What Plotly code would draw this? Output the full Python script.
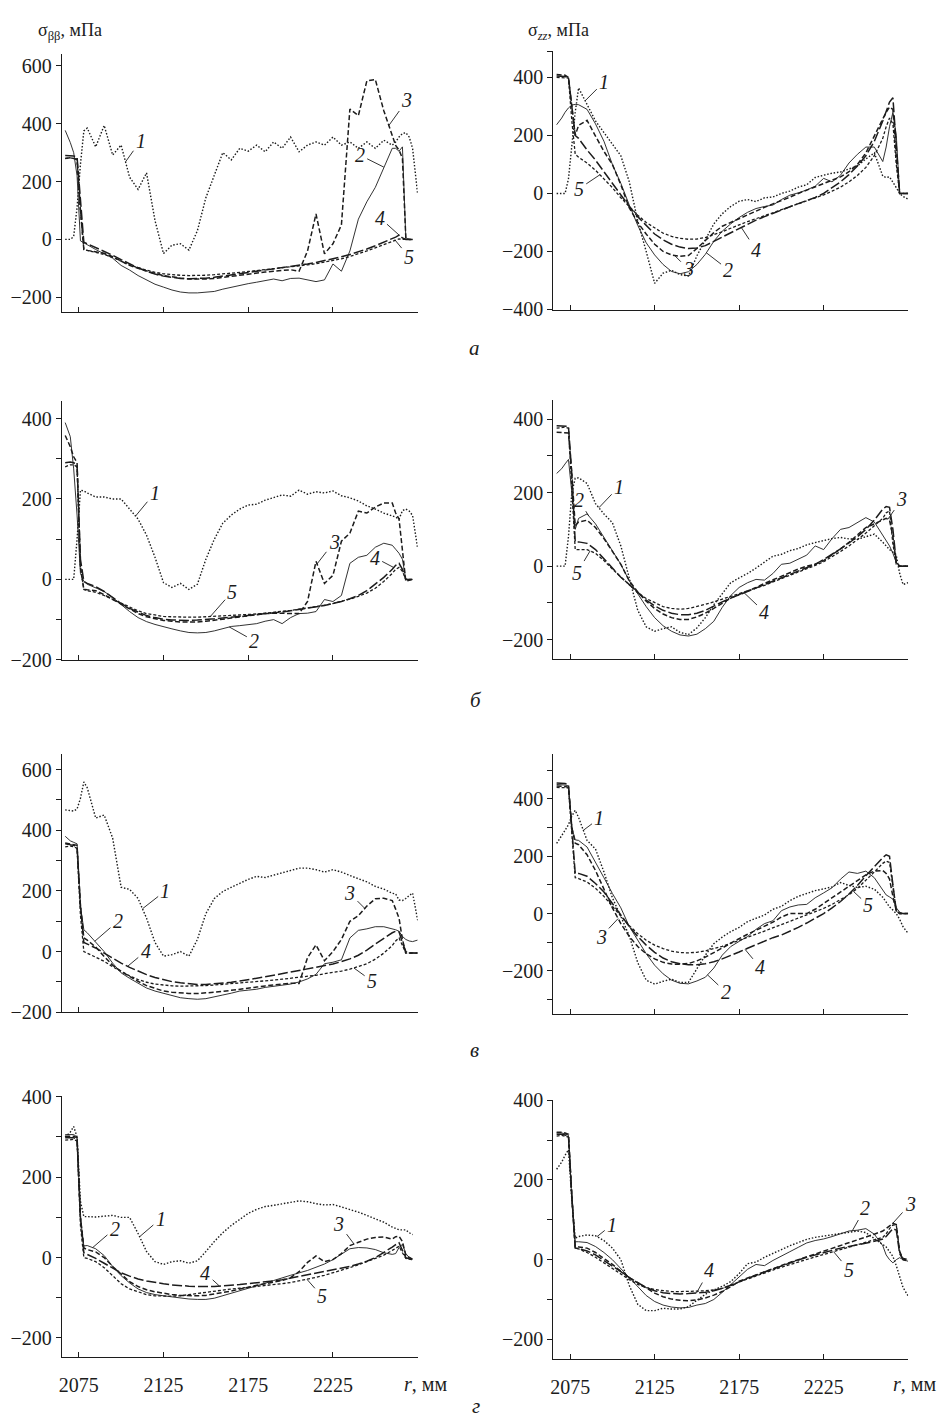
import numpy as np
import plotly.graph_objects as go

W, H = 946, 1425
INK = "#1c1c1c"
SERIF = "Liberation Serif"

# radius grid, mm
R = [2067, 2070, 2072, 2074, 2076, 2078, 2080, 2085, 2090, 2095,
     2100, 2105, 2110, 2115, 2120, 2125, 2130, 2135, 2140, 2145,
     2150, 2155, 2160, 2165, 2170, 2175, 2180, 2185, 2190, 2195,
     2200, 2205, 2210, 2215, 2220, 2225, 2230, 2235, 2240, 2245,
     2250, 2255, 2260, 2262, 2264, 2266, 2268, 2270, 2272, 2275]

# ---- а: sigma_bb, MPa ----
A_BB_1 = [0, 0, 10, 110, 260, 375, 385, 320, 394, 292,
          326, 215, 173, 230, 65, -49, -20, -15, -37, 30,
          144, 224, 300, 275, 315, 305, 326, 303, 337, 315,
          354, 303, 326, 337, 326, 354, 326, 337, 315, 337,
          315, 343, 326, 337, 354, 366, 369, 354, 315, 156]
A_BB_2 = [377, 335, 300, 220, -5, -12, -18, -35, -50, -65,
          -90, -106, -125, -140, -155, -165, -175, -182, -185, -185,
          -183, -180, -172, -165, -158, -153, -148, -142, -137, -143,
          -135, -134, -140, -146, -140, -85, -110, -40, 70, 130,
          180, 250, 315, 315, 305, 320, 5, 0, 0, None]
A_BB_3 = [280, 282, 280, 275, 100, -35, -38, -42, -48, -60,
          -75, -90, -100, -110, -118, -125, -130, -134, -137, -138,
          -137, -135, -131, -127, -123, -120, -116, -113, -110, -108,
          -105, -110, -40, 88, -50, -15, 50, 451, 428, 548,
          553, 445, 360, 325, 309, 280, 5, 0, 0, None]
A_BB_4 = [290, 290, 288, 285, 150, -10, -15, -28, -42, -55,
          -70, -85, -98, -110, -120, -127, -132, -135, -136, -136,
          -134, -131, -127, -123, -119, -115, -111, -107, -103, -99,
          -95, -90, -85, -80, -74, -68, -60, -52, -43, -33,
          -22, -10, 2, 8, 15, 5, 0, 0, 0, None]
A_BB_5 = [280, 282, 280, 278, 100, -35, -38, -45, -52, -62,
          -75, -88, -98, -107, -114, -119, -122, -124, -125, -125,
          -124, -122, -120, -117, -114, -111, -108, -105, -102, -99,
          -96, -92, -88, -84, -79, -74, -67, -59, -50, -40,
          -29, -17, -5, 0, 2, 0, 0, 0, 0, None]

# ---- а: sigma_zz, MPa ----
A_ZZ_1 = [0, 0, 0, 50, 160, 280, 364, 305, 250, 210,
          170, 130, 40, -95, -200, -310, -275, -265, -280, -285,
          -215, -160, -105, -70, -45, -27, -21, -28, -15, -12,
          0, 8, 22, 30, 55, 63, 70, 74, 85, 95,
          119, 140, 60, 55, 57, 40, 20, 0, -10, -20]
A_ZZ_2 = [237, 260, 280, 295, 305, 307, 306, 290, 240, 180,
          100, 35, -40, -110, -170, -212, -245, -269, -277, -270,
          -245, -210, -165, -130, -105, -83, -65, -52, -45, -40,
          -21, -6, 2, 12, 25, 52, 40, 63, 105, 135,
          160, 160, 110, 160, 230, 280, 200, 0, 0, 0]
A_ZZ_3 = [410, 410, 408, 400, 300, 200, 235, 252, 198, 145,
          100, 30, -50, -100, -140, -175, -200, -212, -217, -214,
          -190, -163, -135, -113, -100, -86, -72, -60, -48, -36,
          -25, -13, 0, 11, 22, 33, 45, 57, 75, 100,
          140, 200, 260, 280, 298, 290, 120, 0, 0, 0]
A_ZZ_4 = [405, 405, 403, 400, 300, 200, 190, 150, 115, 75,
          35, -5, -45, -80, -110, -140, -160, -175, -185, -190,
          -188, -180, -165, -150, -135, -120, -105, -92, -80, -68,
          -57, -46, -35, -25, -14, 0, 20, 40, 65, 95,
          130, 180, 250, 280, 315, 330, 150, 0, 0, 0]
A_ZZ_5 = [400, 400, 400, 398, 250, 135, 125, 105, 80, 50,
          20, -15, -45, -75, -100, -120, -137, -148, -155, -158,
          -157, -152, -143, -132, -120, -108, -97, -87, -77, -67,
          -57, -47, -37, -27, -17, -5, 8, 22, 40, 62,
          90, 130, 190, 230, 260, 240, 100, 0, 0, 0]

# ---- б: sigma_bb ----
B_BB_1 = [0, 0, 0, 100, 222, 220, 215, 205, 205, 200,
          200, 175, 150, 110, 55, -8, -20, -10, -25, -12,
          50, 100, 140, 160, 175, 185, 187, 197, 203, 210,
          207, 222, 212, 218, 215, 220, 208, 203, 195, 183,
          175, 165, 158, 155, 150, 171, 175, 170, 159, 77]
B_BB_2 = [390, 355, 275, 160, 15, -5, -12, -22, -30, -45,
          -63, -80, -95, -105, -112, -118, -123, -128, -132, -133,
          -132, -128, -122, -117, -115, -112, -110, -104, -100, -110,
          -95, -85, -84, -80, -50, -55, -40, 40, 55, 60,
          80, 90, 85, 75, 65, 50, 0, 0, 0, None]
B_BB_3 = [358, 330, 305, 290, 30, -25, -26, -28, -38, -50,
          -62, -75, -85, -93, -98, -102, -104, -106, -106, -106,
          -104, -102, -99, -96, -93, -90, -88, -85, -84, -84,
          -85, -85, -55, 45, -10, 10, 95, 115, 170, 165,
          180, 190, 190, 165, 150, 80, -5, -2, 0, None]
B_BB_4 = [290, 292, 290, 285, 50, -5, -10, -18, -30, -45,
          -60, -72, -82, -90, -95, -99, -101, -102, -102, -101,
          -100, -98, -96, -94, -92, -90, -88, -86, -84, -81,
          -78, -75, -72, -69, -65, -60, -55, -48, -40, -28,
          -12, 5, 25, 35, 40, 25, 0, 0, 0, None]
B_BB_5 = [280, 285, 285, 280, 30, -25, -28, -32, -40, -50,
          -60, -70, -78, -85, -89, -92, -93, -94, -94, -94,
          -93, -92, -91, -90, -89, -87, -86, -84, -82, -80,
          -77, -74, -71, -68, -64, -60, -55, -49, -42, -34,
          -22, -5, 15, 25, 30, 20, 0, 0, 0, None]

# ---- б: sigma_zz ----
B_ZZ_1 = [0, 0, 0, 80, 200, 239, 240, 225, 170, 142,
          118, 55, -30, -120, -165, -177, -170, -165, -180, -186,
          -168, -140, -105, -75, -45, -32, -20, -5, 10, 27,
          32, 42, 48, 58, 64, 70, 75, 78, 74, 73,
          80, 87, 65, 55, 45, 38, 29, -20, -50, -45]
B_ZZ_2 = [252, 265, 278, 290, 200, 100, 130, 142, 115, 78,
          40, 5, -40, -75, -110, -140, -162, -177, -187, -190,
          -185, -170, -150, -112, -80, -58, -45, -36, -38, -20,
          5, 8, 18, 30, 55, 45, 75, 100, 105, 118,
          132, 120, 85, 70, 55, 35, 10, 0, 0, 0]
B_ZZ_3 = [364, 364, 364, 362, 250, 110, 120, 125, 105, 75,
          40, 5, -40, -70, -95, -115, -130, -140, -145, -145,
          -138, -128, -115, -100, -87, -77, -68, -58, -47, -37,
          -27, -18, -8, 0, 5, 15, 30, 47, 65, 85,
          105, 115, 125, 130, 125, 80, 10, 0, 0, 0]
B_ZZ_4 = [382, 382, 382, 380, 250, 66, 66, 62, 45, 20,
          -5, -30, -50, -72, -92, -108, -120, -128, -132, -132,
          -128, -120, -108, -97, -87, -78, -69, -60, -51, -42,
          -33, -24, -15, -5, 5, 18, 32, 47, 63, 80,
          100, 125, 155, 162, 160, 100, 10, 0, 0, 0]
B_ZZ_5 = [375, 378, 378, 375, 220, 45, 45, 45, 35, 15,
          -8, -30, -52, -72, -88, -100, -110, -115, -117, -115,
          -110, -104, -97, -90, -82, -75, -67, -60, -52, -43,
          -35, -27, -18, -8, 2, 12, 25, 40, 55, 72,
          90, 110, 130, 145, 150, 60, 5, 0, 0, 0]

# ---- в: sigma_bb ----
V_BB_1 = [467, 465, 463, 470, 505, 559, 540, 440, 450, 374,
          212, 205, 175, 110, 30, -15, -10, 0, -15, 40,
          125, 175, 198, 212, 225, 238, 248, 244, 252, 260,
          268, 275, 275, 270, 262, 270, 262, 250, 240, 230,
          215, 206, 192, 190, 170, 168, 175, 185, 193, 103]
V_BB_2 = [380, 365, 360, 355, 150, 72, 62, 30, 0, -38,
          -70, -88, -105, -120, -130, -138, -146, -152, -155, -157,
          -155, -150, -143, -137, -130, -127, -124, -118, -115, -112,
          -107, -100, -90, -75, -40, -35, -27, 45, 70, 75,
          82, 82, 76, 72, 67, 50, 40, 35, 33, 38]
V_BB_3 = [358, 355, 352, 350, 150, 45, 38, 15, -16, -45,
          -65, -82, -98, -112, -122, -130, -134, -137, -138, -138,
          -137, -134, -131, -128, -124, -121, -117, -113, -110, -106,
          -104, -105, -20, 22, -30, 0, 40, 100, 118, 150,
          174, 176, 168, 140, 110, 40, -5, -5, -5, -5]
V_BB_4 = [355, 352, 350, 345, 150, 30, 25, 12, -5, -22,
          -38, -52, -65, -76, -85, -93, -99, -103, -106, -108,
          -108, -106, -104, -101, -97, -93, -88, -83, -78, -73,
          -68, -63, -58, -53, -47, -41, -33, -24, -12, 5,
          25, 45, 62, 67, 65, 30, 0, -5, -5, -5]
V_BB_5 = [345, 348, 346, 340, 120, 0, -5, -18, -32, -50,
          -66, -80, -92, -101, -107, -111, -113, -114, -114, -113,
          -112, -110, -108, -106, -104, -102, -100, -97, -94, -91,
          -88, -85, -82, -78, -73, -69, -64, -58, -50, -40,
          -25, -5, 20, 35, 45, 20, -5, -5, -5, -5]

# ---- в: sigma_zz ----
V_ZZ_1 = [245, 270, 290, 310, 340, 360, 335, 255, 225, 145,
          55, -10, -78, -171, -232, -246, -236, -229, -240, -240,
          -194, -145, -105, -82, -63, -48, -28, -17, -5, 15,
          25, 45, 60, 70, 80, 86, 93, 108, 98, 91,
          95, 85, 57, 40, 23, 12, 0, -20, -46, -69]
V_ZZ_2 = [450, 450, 448, 445, 300, 257, 255, 232, 180, 125,
          70, 20, -45, -92, -140, -180, -210, -232, -243, -245,
          -235, -222, -190, -145, -115, -97, -80, -55, -35, -25,
          10, 23, 30, 32, 55, 72, 90, 120, 145, 140,
          148, 125, 82, 65, 58, 50, 20, 5, 0, 0]
V_ZZ_3 = [445, 445, 443, 440, 300, 245, 240, 205, 150, 85,
          20, -35, -80, -115, -140, -158, -170, -176, -177, -174,
          -165, -152, -137, -120, -103, -87, -72, -58, -45, -30,
          -12, 0, 0, 0, 15, 35, 55, 75, 95, 115,
          135, 148, 150, 140, 120, 60, 10, 0, 0, 0]
V_ZZ_4 = [455, 455, 453, 450, 300, 140, 140, 130, 105, 75,
          35, -5, -45, -80, -110, -135, -155, -168, -175, -178,
          -178, -175, -168, -158, -147, -134, -121, -108, -96, -84,
          -75, -62, -48, -33, -17, 0, 20, 42, 68, 98,
          132, 165, 195, 205, 200, 100, 10, 0, 0, 0]
V_ZZ_5 = [440, 440, 440, 438, 280, 125, 122, 110, 88, 60,
          25, -10, -42, -70, -93, -110, -122, -131, -136, -137,
          -135, -130, -123, -114, -104, -94, -83, -72, -61, -50,
          -39, -28, -17, -6, 6, 18, 32, 48, 66, 88,
          115, 145, 175, 183, 178, 90, 10, 0, 0, 0]

# ---- г: sigma_bb ----
G_BB_1 = [300, 312, 326, 300, 140, 102, 102, 101, 103, 105,
          100, 100, 60, 15, -10, -17, -10, -8, -14, -8,
          15, 40, 62, 80, 95, 110, 120, 127, 130, 134,
          138, 141, 139, 134, 131, 132, 126, 120, 113, 105,
          96, 88, 76, 72, 69, 69, 69, 62, 57, None]
G_BB_2 = [306, 306, 306, 300, 100, 29, 30, 22, 5, -22,
          -45, -63, -78, -87, -92, -95, -98, -101, -103, -104,
          -104, -101, -95, -89, -83, -77, -70, -64, -57, -50,
          -44, -38, -32, -24, -16, -5, 8, 22, 25, 24,
          20, 12, 8, 10, 25, 33, 10, 0, -4, None]
G_BB_3 = [302, 302, 302, 298, 100, 24, 20, 14, 0, -22,
          -42, -60, -72, -80, -85, -89, -92, -94, -95, -95,
          -94, -91, -87, -83, -78, -73, -69, -65, -61, -57,
          -50, -35, -12, 4, -10, -5, 10, 30, 38, 46,
          50, 51, 46, 52, 53, 40, 5, 0, -4, None]
G_BB_4 = [298, 298, 298, 295, 100, 12, 8, -2, -14, -27,
          -38, -46, -53, -58, -62, -65, -68, -70, -71, -72,
          -72, -72, -70, -69, -67, -65, -63, -61, -58, -55,
          -51, -47, -43, -39, -35, -31, -27, -22, -16, -9,
          0, 12, 26, 32, 37, 18, 0, -3, -5, None]
G_BB_5 = [292, 294, 294, 290, 80, 0, -2, -10, -25, -45,
          -65, -78, -86, -92, -95, -96, -96, -95, -92, -89,
          -86, -83, -80, -78, -76, -74, -72, -70, -68, -65,
          -62, -58, -54, -49, -44, -38, -32, -25, -18, -10,
          -2, 6, 18, 24, 28, 12, -2, -4, -5, None]

# ---- г: sigma_zz ----
G_ZZ_1 = [227, 245, 262, 276, 150, 54, 58, 62, 60, 48,
          29, 0, -65, -112, -128, -128, -122, -124, -124, -118,
          -102, -87, -76, -67, -55, -35, -10, -6, 6, 16,
          25, 35, 43, 51, 56, 59, 62, 66, 68, 72,
          68, 54, 38, 32, 20, 8, -15, -40, -70, -91]
G_ZZ_2 = [318, 318, 316, 312, 150, 45, 45, 43, 33, 18,
          0, -22, -45, -68, -90, -105, -114, -119, -121, -120,
          -114, -110, -100, -82, -62, -42, -24, -12, -15, -2,
          8, 20, 31, 42, 48, 52, 58, 66, 72, 74,
          78, 64, 35, 12, 0, -8, 0, 5, 0, -4]
G_ZZ_3 = [320, 320, 318, 315, 160, 33, 32, 29, 18, 4,
          -12, -29, -45, -58, -72, -84, -93, -99, -102, -103,
          -101, -96, -89, -80, -68, -54, -46, -38, -30, -22,
          -15, -7, 0, 7, 14, 21, 28, 35, 42, 50,
          56, 64, 72, 78, 85, 91, 88, 20, 3, 0]
G_ZZ_4 = [315, 315, 313, 310, 160, 29, 28, 22, 12, -2,
          -14, -30, -45, -58, -70, -78, -83, -85, -86, -85,
          -84, -82, -78, -72, -64, -55, -47, -39, -31, -23,
          -15, -8, -1, 6, 12, 18, 24, 29, 33, 37,
          41, 46, 52, 58, 68, 78, 74, 15, 0, -4]
G_ZZ_5 = [310, 312, 310, 308, 160, 29, 27, 18, 6, -8,
          -22, -37, -50, -62, -70, -75, -78, -80, -80, -80,
          -79, -78, -76, -72, -65, -56, -48, -40, -33, -26,
          -19, -12, -5, 1, 7, 13, 19, 25, 31, 37,
          43, 49, 56, 65, 78, 87, 87, 20, 0, 0]

# curve tags: (curve number, radius of leader tip, text offset x, text offset y) in px
A_BB_TAGS = [(1, 2102.6, 15, -21), (2, 2255, -24, -12), (3, 2258, 18, -25),
             (4, 2264.4, -20, -18), (5, 2261.5, 14, 17)]
A_ZZ_TAGS = [(1, 2083.8, 19, -19), (5, 2092.6, -21, 14), (3, 2136.8, 14, 14),
             (2, 2155.6, 22, 17), (4, 2176.2, 15, 23)]
B_BB_TAGS = [(1, 2108.5, 19, -23), (3, 2215.6, 17, -22), (4, 2260.9, -19, -10),
             (5, 2152.6, 22, -25), (2, 2163.8, 25, 14)]
B_ZZ_TAGS = [(1, 2092, 20, -21), (2, 2086, -10, -16), (3, 2263, 14, -20),
             (4, 2178, 20, 19), (5, 2086.8, -13, 22)]
V_BB_TAGS = [(1, 2112.6, 23, -18), (2, 2084.4, 23, -20), (4, 2103.8, 18, -15),
             (3, 2243.8, -15, -15), (5, 2237.4, 18, 13)]
V_ZZ_TAGS = [(1, 2082.8, 16, -12), (3, 2103.4, -17, 18), (4, 2178.5, 15, 18),
             (2, 2156.3, 18, 17), (5, 2242.6, 15, 14)]
G_BB_TAGS = [(1, 2110.9, 21, -18), (2, 2083.2, 22, -19), (4, 2158, -14, -13),
             (3, 2237.4, -15, -20), (5, 2209.7, 15, 17)]
G_ZZ_TAGS = [(1, 2090.9, 15, -12), (4, 2149.7, 13, -23), (2, 2242, 13, -23),
             (3, 2265.6, 18, -20), (5, 2230.9, 15, 18)]

R_TICKS = [2075, 2125, 2175, 2225]
R_END = 2275

# line style per curve number
STYLE = {
    1: dict(dash="1.5px,1.8px", width=1.4),
    2: dict(dash="solid", width=0.9),
    3: dict(dash="5px,2.5px", width=1.5),
    4: dict(dash="10px,3px", width=1.5),
    5: dict(dash="3px,2px", width=1.3),
}

# panel layout: curves, tags, box in px (left, top, right, bottom), y range, major/minor ticks
PANELS = [
    dict(curves=[A_BB_1, A_BB_2, A_BB_3, A_BB_4, A_BB_5], tags=A_BB_TAGS,
         box=(59, 44, 416, 306), yr=[-252, 640], major=[-200, 0, 200, 400, 600], minor=[]),
    dict(curves=[A_ZZ_1, A_ZZ_2, A_ZZ_3, A_ZZ_4, A_ZZ_5], tags=A_ZZ_TAGS,
         box=(552, 41, 908, 304), yr=[-403, 490], major=[-400, -200, 0, 200, 400], minor=[488]),
    dict(curves=[B_BB_1, B_BB_2, B_BB_3, B_BB_4, B_BB_5], tags=B_BB_TAGS,
         box=(59, 396, 416, 659), yr=[-200, 444], major=[-200, 0, 200, 400], minor=[-100, 100, 300]),
    dict(curves=[B_ZZ_1, B_ZZ_2, B_ZZ_3, B_ZZ_4, B_ZZ_5], tags=B_ZZ_TAGS,
         box=(552, 395, 908, 658), yr=[-252, 452], major=[-200, 0, 200, 400], minor=[-100, 100, 300]),
    dict(curves=[V_BB_1, V_BB_2, V_BB_3, V_BB_4, V_BB_5], tags=V_BB_TAGS,
         box=(59, 755, 416, 1017), yr=[-200, 650], major=[-200, 0, 200, 400, 600],
         minor=[-100, 100, 300, 500]),
    dict(curves=[V_ZZ_1, V_ZZ_2, V_ZZ_3, V_ZZ_4, V_ZZ_5], tags=V_ZZ_TAGS,
         box=(552, 755, 908, 1019), yr=[-351, 555], major=[-200, 0, 200, 400],
         minor=[-300, -100, 100, 300, 500]),
    dict(curves=[G_BB_1, G_BB_2, G_BB_3, G_BB_4, G_BB_5], tags=G_BB_TAGS,
         box=(59, 1102, 416, 1367), yr=[-247, 402], major=[-200, 0, 200, 400], minor=[-100, 100, 300]),
    dict(curves=[G_ZZ_1, G_ZZ_2, G_ZZ_3, G_ZZ_4, G_ZZ_5], tags=G_ZZ_TAGS,
         box=(552, 1106, 908, 1369), yr=[-249, 401], major=[-200, 0, 200, 400], minor=[-100, 100, 300]),
]


def tip_value(r, ys):
    pts = [(x, y) for x, y in zip(R, ys) if y is not None]
    xs, vs = zip(*pts)
    return float(np.interp(r, xs, vs))


fig = go.Figure()
layout = dict(
    width=W, height=H, margin=dict(l=0, r=0, t=0, b=0),
    paper_bgcolor="white", plot_bgcolor="white", showlegend=False,
    font=dict(family=SERIF, size=20, color=INK),
)
annotations = []
tick_font = dict(family=SERIF, size=20, color=INK)

for i, p in enumerate(PANELS, start=1):
    sx = "" if i == 1 else str(i)
    xa, ya = "x" + sx, "y" + sx
    left, top, right, bottom = p["box"]
    bottom_row = i >= 7

    layout["xaxis" + sx] = dict(
        domain=[left / W, right / W], range=[2065, 2275], anchor=ya,
        showgrid=False, zeroline=False, showline=True, linecolor=INK, linewidth=1,
        tickmode="array", tickvals=R_TICKS, ticktext=[str(v) for v in R_TICKS],
        ticks="inside", ticklen=5, tickwidth=1, tickcolor=INK,
        showticklabels=bottom_row, tickfont=tick_font, ticklabelstandoff=10,
        minor=dict(tickmode="array", tickvals=[R_END], ticks="inside",
                   ticklen=5, tickwidth=1, tickcolor=INK, showgrid=False),
    )
    layout["yaxis" + sx] = dict(
        domain=[1 - bottom / H, 1 - top / H], range=p["yr"], anchor=xa,
        showgrid=False, zeroline=False, showline=True, linecolor=INK, linewidth=1,
        tickmode="array", tickvals=p["major"],
        ticks="outside", ticklen=5, tickwidth=1, tickcolor=INK,
        tickfont=tick_font,
        minor=dict(tickmode="array", tickvals=p["minor"], ticks="outside",
                   ticklen=5, tickwidth=1, tickcolor=INK, showgrid=False),
    )

    for n, ys in enumerate(p["curves"], start=1):
        st = STYLE[n]
        fig.add_trace(go.Scatter(
            x=R, y=ys, mode="lines", xaxis=xa, yaxis=ya,
            line=dict(color=INK, width=st["width"], dash=st["dash"]),
            hoverinfo="skip", connectgaps=False,
        ))

    for n, r, ax, ay in p["tags"]:
        annotations.append(dict(
            x=r, y=tip_value(r, p["curves"][n - 1]), xref=xa, yref=ya,
            text=f"<i>{n}</i>", showarrow=True, arrowhead=0, arrowwidth=0.9,
            arrowcolor=INK, ax=ax, ay=ay, standoff=0, startstandoff=1,
            font=dict(family=SERIF, size=20, color=INK),
        ))

# axis titles
annotations.append(dict(
    x=33 / W, y=1 - 21 / H, xref="paper", yref="paper", xanchor="left", yanchor="middle",
    text="σ<sub>ββ</sub>, мПа", showarrow=False, font=dict(family=SERIF, size=18, color=INK)))
annotations.append(dict(
    x=525 / W, y=1 - 21 / H, xref="paper", yref="paper", xanchor="left", yanchor="middle",
    text="σ<sub><i>zz</i></sub>, мПа", showarrow=False, font=dict(family=SERIF, size=18, color=INK)))

# radius label at the end of each bottom axis
for xc in (424, 914):
    annotations.append(dict(
        x=xc / W, y=1 - 1395 / H, xref="paper", yref="paper", xanchor="center", yanchor="middle",
        text="<i>r</i>, мм", showarrow=False, font=dict(family=SERIF, size=20, color=INK)))

# panel letters
for letter, (lx, ly) in zip(["а", "б", "в", "г"], [(473, 342), (475, 700), (473, 1055), (475, 1417)]):
    annotations.append(dict(
        x=lx / W, y=1 - ly / H, xref="paper", yref="paper", xanchor="center", yanchor="middle",
        text=f"<i>{letter}</i>", showarrow=False, font=dict(family=SERIF, size=21, color=INK)))

layout["annotations"] = annotations
fig.update_layout(**layout)
fig.write_html("out.html")
